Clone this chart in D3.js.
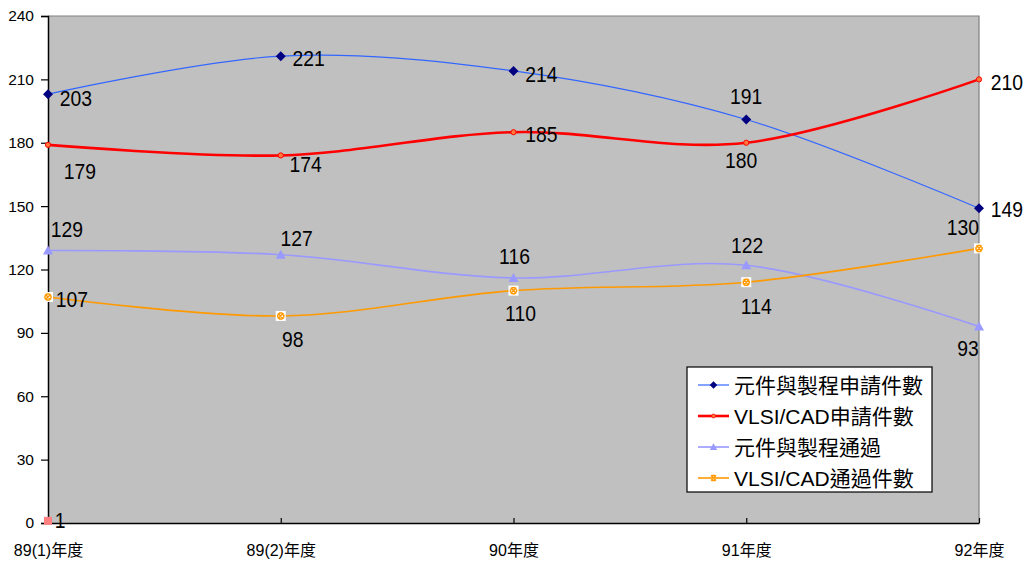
<!DOCTYPE html>
<html>
<head>
<meta charset="utf-8">
<script src="https://cdn.jsdelivr.net/npm/d3@7"></script>
<style>
  html, body { margin: 0; padding: 0; background: #ffffff; }
  svg { display: block; font-family: "Liberation Sans", Arial, "Noto Sans CJK TC", sans-serif; }
</style>
</head>
<body>
<svg id="chart" width="1024" height="562"></svg>
<script>
// Categories (fiscal years) and y-axis ticks
const categories = ["89(1)年度", "89(2)年度", "90年度", "91年度", "92年度"];
const yTicks = [0, 30, 60, 90, 120, 150, 180, 210, 240];

// Series values
const deviceApplied = [203, 221, 214, 191, 149];   // 元件與製程申請件數
const vlsiApplied   = [179, 174, 185, 180, 210];   // VLSI/CAD申請件數
const devicePassed  = [129, 127, 116, 122, 93];    // 元件與製程通過
const vlsiPassed    = [107, 98, 110, 114, 130];    // VLSI/CAD通過件數
const strayValues   = [1];                         // unnamed extra point

const seriesNames = ["元件與製程申請件數", "VLSI/CAD申請件數", "元件與製程通過", "VLSI/CAD通過件數"];

// Label offsets (dx, dy of label centre relative to its point)
const deviceAppliedLabelPos = [[28, 4], [28, 2], [28, 3], [0, -24], [28, 1]];
const vlsiAppliedLabelPos   = [[32, 26], [25, 9], [28, 2], [-5, 17], [28, 3]];
const devicePassedLabelPos  = [[19, -22], [16, -17], [1, -22], [1, -20], [-11, 21]];
const vlsiPassedLabelPos    = [[24, 2], [12, 23], [7, 22], [10, 24], [-16, -21]];
const strayLabelPos         = [[12, -1]];

const svg = d3.select("#chart");
const plot = { left: 48, right: 979, top: 16, bottom: 523 };

const x = d3.scalePoint().domain(categories).range([plot.left, plot.right]).padding(0);
const y = d3.scaleLinear().domain([0, 240]).range([plot.bottom, plot.top]);

// Plot background and frame
svg.append("rect")
  .attr("x", plot.left).attr("y", plot.top)
  .attr("width", plot.right - plot.left).attr("height", plot.bottom - plot.top)
  .attr("fill", "#c0c0c0");
svg.append("path")
  .attr("d", `M${plot.left},${plot.top}H${plot.right}V${plot.bottom}`)
  .attr("fill", "none").attr("stroke", "#808080").attr("stroke-width", 1.2);

// Y axis
const yAxis = d3.axisLeft(y).tickValues(yTicks).tickSize(7).tickPadding(7);
const gy = svg.append("g").attr("transform", `translate(${plot.left},0)`).call(yAxis);
gy.select(".domain").attr("stroke", "#000").attr("stroke-width", 1.5);
gy.selectAll(".tick line").attr("stroke", "#000").attr("stroke-width", 1.2);
gy.selectAll(".tick text").attr("font-size", 15.5).attr("fill", "#000")
  .attr("font-family", "Liberation Sans, Arial, sans-serif");

// X axis (ticks point inward)
const xAxis = d3.axisBottom(x).tickSize(-5).tickPadding(22).tickSizeOuter(0);
const gx = svg.append("g").attr("transform", `translate(0,${plot.bottom})`).call(xAxis);
gx.select(".domain").attr("stroke", "#000").attr("stroke-width", 1.5);
gx.selectAll(".tick line").attr("stroke", "#000").attr("stroke-width", 1.2);
gx.selectAll(".tick text").attr("font-size", 16).attr("fill", "#000")
  .attr("font-family", "Liberation Sans, Arial, 'Noto Sans CJK TC', sans-serif");

// Smoothed line generator
const line = d3.line()
  .x((d, i) => x(categories[i]))
  .y(d => y(d))
  .curve(d3.curveCardinal.tension(0));

// Marker painters
function diamond(g, color) {
  g.append("path").attr("d", "M0,-5L5,0L0,5L-5,0Z").attr("fill", color);
}
function dot(g) {
  g.append("circle").attr("r", 2.6).attr("fill", "#ff7a3a").attr("stroke", "#ff0000").attr("stroke-width", 1);
}
function triangle(g, color) {
  g.append("path").attr("d", "M0,-5L5,4L-5,4Z").attr("fill", color);
}
function starBox(g, color) {
  g.append("rect").attr("x", -5).attr("y", -5).attr("width", 10).attr("height", 10).attr("fill", "#ffffff");
  g.append("path").attr("d", "M-2.8,-2.8L2.8,2.8M2.8,-2.8L-2.8,2.8M-1.8,-3H1.8M-1.8,3H1.8M-3,-1.5V1.5M3,-1.5V1.5")
    .attr("stroke", color).attr("stroke-width", 1.5).attr("fill", "none");
}
function square(g, color) {
  g.append("rect").attr("x", -4).attr("y", -4).attr("width", 8).attr("height", 8).attr("fill", color);
}

const series = [
  { name: seriesNames[0], values: deviceApplied, color: "#3366ff", width: 1.2, marker: g => diamond(g, "#000080"), labels: deviceAppliedLabelPos },
  { name: seriesNames[1], values: vlsiApplied,   color: "#ff0000", width: 2.6, marker: g => dot(g), labels: vlsiAppliedLabelPos },
  { name: seriesNames[2], values: devicePassed,  color: "#9999ff", width: 1.6, marker: g => triangle(g, "#9999ff"), labels: devicePassedLabelPos },
  { name: seriesNames[3], values: vlsiPassed,    color: "#ff9900", width: 1.6, marker: g => starBox(g, "#ff9900"), labels: vlsiPassedLabelPos }
];

// Lines
series.forEach(s => {
  svg.append("path").datum(s.values)
    .attr("d", line)
    .attr("fill", "none")
    .attr("stroke", s.color)
    .attr("stroke-width", s.width);
});

// Markers
series.forEach(s => {
  s.values.forEach((v, i) => {
    const g = svg.append("g").attr("transform", `translate(${x(categories[i])},${y(v)})`);
    s.marker(g);
  });
});

// Data labels (slightly condensed, as the chart's label font)
function valueLabel(px, py, text) {
  svg.append("text")
    .attr("transform", `translate(${px},${py}) scale(0.86,1)`)
    .attr("text-anchor", "middle")
    .attr("dominant-baseline", "central")
    .attr("font-size", 22.5)
    .attr("fill", "#000")
    .text(text);
}
series.forEach(s => {
  s.values.forEach((v, i) => {
    const [dx, dy] = s.labels[i];
    valueLabel(x(categories[i]) + dx, y(v) + dy, v);
  });
});

// Stray point at the origin
strayValues.forEach((v, i) => {
  const g = svg.append("g").attr("transform", `translate(${x(categories[i])},${y(v)})`);
  square(g, "#ff8080");
  const [dx, dy] = strayLabelPos[i];
  valueLabel(x(categories[i]) + dx, y(v) + dy, v);
});

// Legend
const legend = svg.append("g").attr("transform", "translate(687,367)");
legend.append("rect").attr("width", 245).attr("height", 125)
  .attr("fill", "#ffffff").attr("stroke", "#000").attr("stroke-width", 1.2);
series.forEach((s, i) => {
  const ly = 18 + i * 31;
  legend.append("line").attr("x1", 11).attr("x2", 42).attr("y1", ly).attr("y2", ly)
    .attr("stroke", s.color).attr("stroke-width", s.width);
  const g = legend.append("g").attr("transform", `translate(26.5,${ly})`);
  if (i === 3) {
    g.append("path").attr("d", "M-2.5,-2.5L2.5,2.5M2.5,-2.5L-2.5,2.5M-2,-2.5H2M-2,2.5H2")
      .attr("stroke", s.color).attr("stroke-width", 1.3);
  } else {
    g.attr("transform", `translate(26.5,${ly}) scale(0.75)`);
    s.marker(g);
  }
  legend.append("text")
    .attr("x", 47).attr("y", ly)
    .attr("dominant-baseline", "central")
    .attr("font-size", 21)
    .attr("fill", "#000")
    .attr("font-family", "Liberation Sans, Arial, 'Noto Sans CJK TC', sans-serif")
    .text(s.name);
});
</script>
</body>
</html>
